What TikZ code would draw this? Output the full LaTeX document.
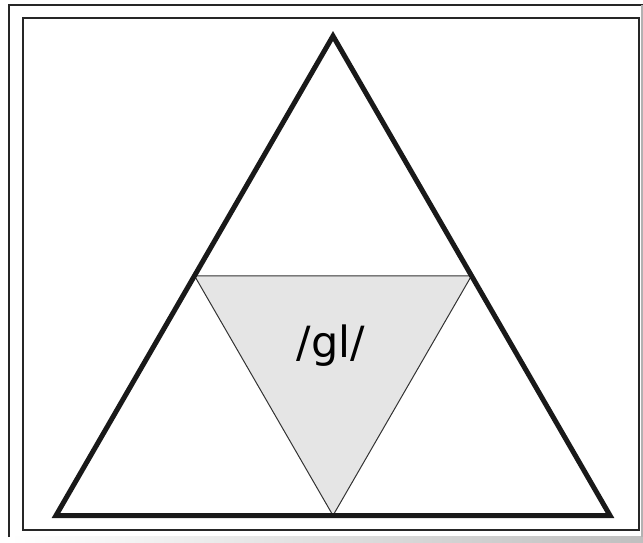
\documentclass[tikz,border=0pt]{standalone}
\usepackage{fontspec}
\setmainfont{DejaVu Sans}
\usetikzlibrary{positioning,calc}

\begin{document}
\begin{tikzpicture}[x=1pt,y=-1pt,
  frame/.style={draw=black!85,line width=2pt},
  tri/.style={draw=black!90,line width=5pt,line join=miter},
  midtri/.style={draw=black!80,line width=1pt,fill=black!10,line join=miter},
  sound/.style={font=\fontsize{43}{50}\selectfont,inner sep=0pt}]
\useasboundingbox (0,0) rectangle (643,543);
% frames
\shade[left color=white,right color=black!25] (10,536) rectangle (643,543);
\draw[frame] (9,537) -- (9,5) -- (643,5);
\draw[draw=black!30,line width=1.5pt] (642,5) -- (642,537);
\draw[frame] (23,18) rectangle (639,530);
% triangles
\coordinate (top) at (333,36);
\coordinate (bl) at (56,515.5);
\coordinate (br) at (610,515.5);
\coordinate (ml) at ($(top)!0.5!(bl)$);
\coordinate (mr) at ($(top)!0.5!(br)$);
\coordinate (mb) at ($(bl)!0.5!(br)$);
\draw[midtri] (ml) -- (mr) -- (mb) -- cycle;
\draw[tri] (top) -- (br) -- (bl) -- cycle;
\node[sound,anchor=base] (gl) at (331,357) {/gl/};
\end{tikzpicture}
\end{document}
